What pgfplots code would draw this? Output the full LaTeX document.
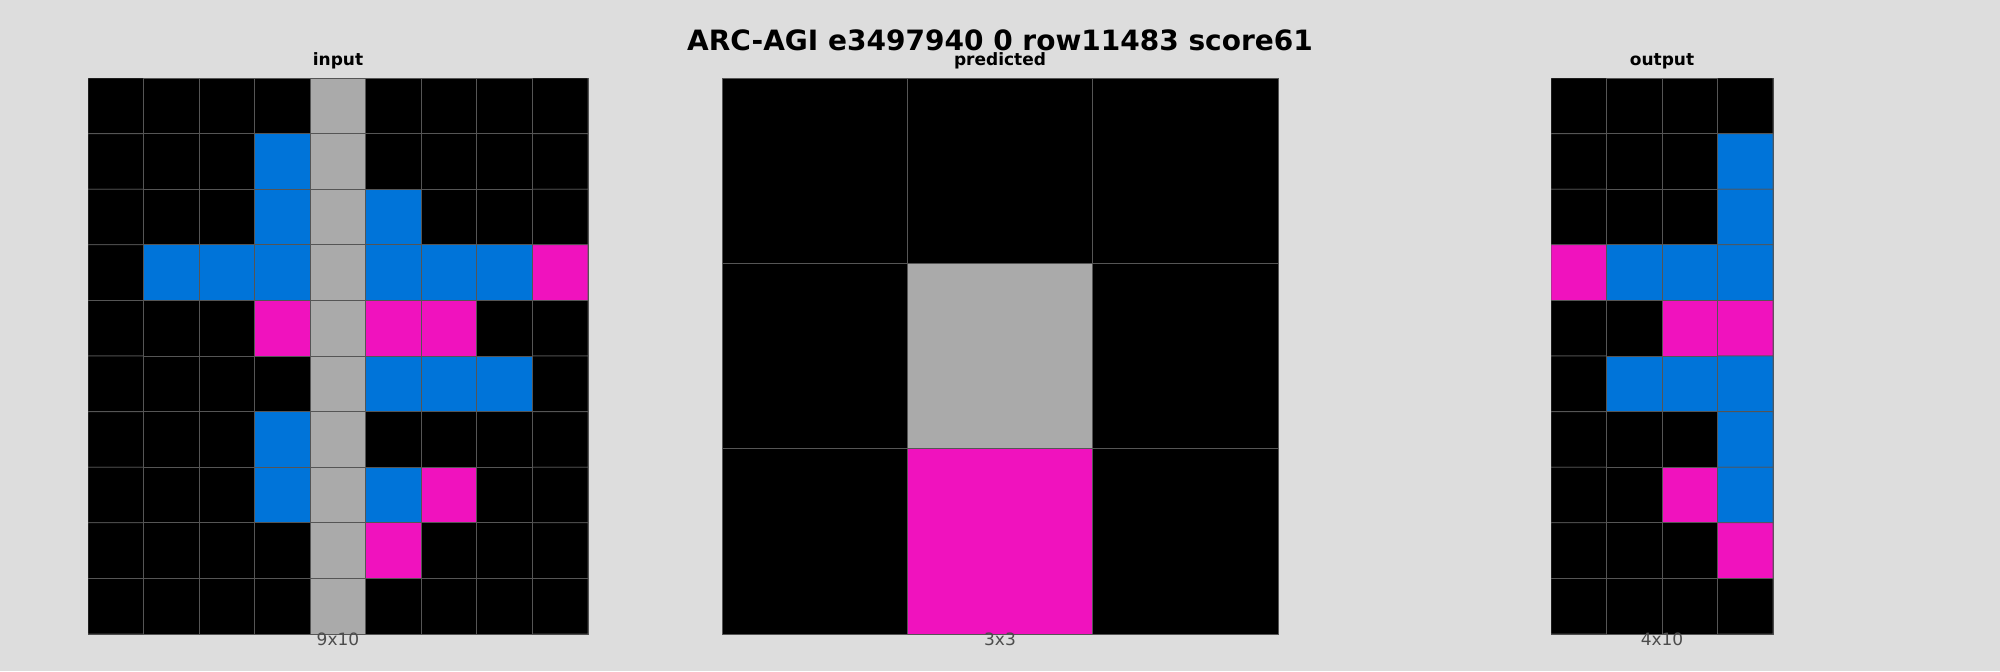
\documentclass[border=0pt]{standalone}
\usepackage{pgfplots}
\pgfplotsset{compat=1.18}
\usepackage{fontspec}
\setmainfont{DejaVu Sans}
\definecolor{bg}{RGB}{221,221,221}
\definecolor{gridc}{RGB}{85,85,85}
\pgfplotsset{
  arc/.style={scale only axis, y dir=reverse, enlargelimits=false, ticks=none,
    axis line style={draw=gridc},
    colormap={arc}{rgb255=(0,0,0) rgb255=(0,116,217) rgb255=(240,18,190) rgb255=(170,170,170)},
    colormap access=direct,
    title style={font=\bfseries\fontsize{8.5}{10}\selectfont, yshift=-5pt},
    xlabel style={font=\fontsize{8.5}{10}\selectfont, text=black!70, yshift=4pt}},
  cells/.style={matrix plot*, draw=gridc, line width=0.4pt, point meta=explicit}
}
\begin{document}
\begin{tikzpicture}
\fill[bg] (0pt,0pt) rectangle (1000pt,335.5pt);
\node[font=\bfseries\fontsize{14}{16}\selectfont] at (500pt,315.5pt) {ARC-AGI e3497940 0 row11483 score61};
\begin{axis}[arc, at={(44pt,18.5pt)}, anchor=south west, width=250pt, height=278pt, xmin=-0.5,xmax=8.5,ymin=-0.5,ymax=9.5, title={input}, xlabel={9x10}]
\addplot[cells, mesh/cols=9] table[meta=c] {
x y c
0 0 0
1 0 0
2 0 0
3 0 0
4 0 3
5 0 0
6 0 0
7 0 0
8 0 0
0 1 0
1 1 0
2 1 0
3 1 1
4 1 3
5 1 0
6 1 0
7 1 0
8 1 0
0 2 0
1 2 0
2 2 0
3 2 1
4 2 3
5 2 1
6 2 0
7 2 0
8 2 0
0 3 0
1 3 1
2 3 1
3 3 1
4 3 3
5 3 1
6 3 1
7 3 1
8 3 2
0 4 0
1 4 0
2 4 0
3 4 2
4 4 3
5 4 2
6 4 2
7 4 0
8 4 0
0 5 0
1 5 0
2 5 0
3 5 0
4 5 3
5 5 1
6 5 1
7 5 1
8 5 0
0 6 0
1 6 0
2 6 0
3 6 1
4 6 3
5 6 0
6 6 0
7 6 0
8 6 0
0 7 0
1 7 0
2 7 0
3 7 1
4 7 3
5 7 1
6 7 2
7 7 0
8 7 0
0 8 0
1 8 0
2 8 0
3 8 0
4 8 3
5 8 2
6 8 0
7 8 0
8 8 0
0 9 0
1 9 0
2 9 0
3 9 0
4 9 3
5 9 0
6 9 0
7 9 0
8 9 0
};
\end{axis}
\begin{axis}[arc, at={(361pt,18.5pt)}, anchor=south west, width=278pt, height=278pt, xmin=-0.5,xmax=2.5,ymin=-0.5,ymax=2.5, title={predicted}, xlabel={3x3}]
\addplot[cells, mesh/cols=3] table[meta=c] {
x y c
0 0 0
1 0 0
2 0 0
0 1 0
1 1 3
2 1 0
0 2 0
1 2 2
2 2 0
};
\end{axis}
\begin{axis}[arc, at={(775.5pt,18.5pt)}, anchor=south west, width=111pt, height=278pt, xmin=-0.5,xmax=3.5,ymin=-0.5,ymax=9.5, title={output}, xlabel={4x10}]
\addplot[cells, mesh/cols=4] table[meta=c] {
x y c
0 0 0
1 0 0
2 0 0
3 0 0
0 1 0
1 1 0
2 1 0
3 1 1
0 2 0
1 2 0
2 2 0
3 2 1
0 3 2
1 3 1
2 3 1
3 3 1
0 4 0
1 4 0
2 4 2
3 4 2
0 5 0
1 5 1
2 5 1
3 5 1
0 6 0
1 6 0
2 6 0
3 6 1
0 7 0
1 7 0
2 7 2
3 7 1
0 8 0
1 8 0
2 8 0
3 8 2
0 9 0
1 9 0
2 9 0
3 9 0
};
\end{axis}
\end{tikzpicture}
\end{document}
